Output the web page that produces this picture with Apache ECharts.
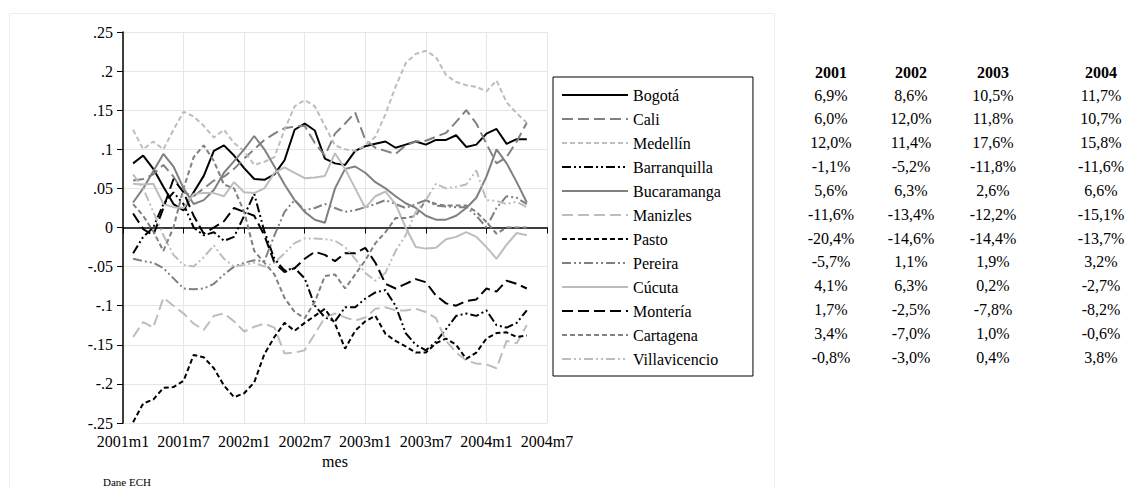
<!DOCTYPE html>
<html><head><meta charset="utf-8">
<script src="https://cdn.jsdelivr.net/npm/echarts@6/dist/echarts.min.js"></script>
<style>html,body{margin:0;padding:0;background:#fff}#c{width:1145px;height:488px}</style>
</head><body><div id="c"></div>
<script>
const months = ['2001m1','2001m2','2001m3','2001m4','2001m5','2001m6','2001m7','2001m8','2001m9','2001m10','2001m11','2001m12',
 '2002m1','2002m2','2002m3','2002m4','2002m5','2002m6','2002m7','2002m8','2002m9','2002m10','2002m11','2002m12',
 '2003m1','2003m2','2003m3','2003m4','2003m5','2003m6','2003m7','2003m8','2003m9','2003m10','2003m11','2003m12',
 '2004m1','2004m2','2004m3','2004m4','2004m5','2004m6','2004m7'];
const cities = ['Bogotá','Cali','Medellín','Barranquilla','Bucaramanga','Manizles','Pasto','Pereira','Cúcuta','Montería','Cartagena','Villavicencio'];
// values from 2001m2 to 2004m5
const bogota = [0.082,0.092,0.075,0.052,0.030,0.022,0.045,0.066,0.098,0.105,0.092,0.076,0.062,0.061,0.068,0.086,0.125,0.133,0.124,0.088,0.082,0.080,0.098,0.104,0.107,0.110,0.102,0.106,0.110,0.106,0.112,0.112,0.118,0.103,0.106,0.120,0.126,0.107,0.113,0.113];
const cali = [0.060,0.062,0.068,0.080,0.065,0.045,0.040,0.050,0.060,0.065,0.075,0.088,0.100,0.112,0.120,0.127,0.129,0.130,0.108,0.092,0.120,0.133,0.147,0.112,0.102,0.098,0.094,0.105,0.110,0.111,0.116,0.121,0.135,0.150,0.133,0.107,0.082,0.090,0.110,0.134];
const medellin = [0.125,0.100,0.110,0.100,0.125,0.148,0.142,0.130,0.115,0.125,0.108,0.098,0.080,0.084,0.090,0.125,0.155,0.163,0.155,0.130,0.105,0.100,0.098,0.105,0.116,0.145,0.180,0.210,0.222,0.226,0.218,0.195,0.186,0.182,0.180,0.174,0.188,0.160,0.146,0.134];
const barranquilla = [-0.033,-0.012,0.000,0.030,0.045,0.030,0.000,-0.010,-0.006,-0.017,-0.012,0.015,0.043,-0.005,-0.040,-0.055,-0.052,-0.065,-0.100,-0.115,-0.120,-0.102,-0.102,-0.091,-0.083,-0.080,-0.100,-0.135,-0.150,-0.157,-0.146,-0.130,-0.113,-0.110,-0.113,-0.106,-0.125,-0.128,-0.122,-0.106];
const bucaramanga = [0.032,0.050,0.072,0.094,0.078,0.050,0.030,0.035,0.048,0.070,0.085,0.100,0.117,0.100,0.078,0.055,0.035,0.020,0.010,0.006,0.050,0.075,0.078,0.070,0.058,0.050,0.040,0.031,0.025,0.015,0.010,0.010,0.015,0.025,0.038,0.065,0.100,0.082,0.058,0.032];
const manizles = [-0.140,-0.121,-0.128,-0.090,-0.100,-0.110,-0.123,-0.131,-0.113,-0.110,-0.120,-0.133,-0.127,-0.123,-0.128,-0.161,-0.160,-0.157,-0.136,-0.115,-0.110,-0.115,-0.119,-0.115,-0.104,-0.102,-0.106,-0.106,-0.104,-0.108,-0.116,-0.145,-0.160,-0.170,-0.174,-0.175,-0.180,-0.145,-0.148,-0.125];
const pasto = [-0.249,-0.225,-0.220,-0.205,-0.204,-0.196,-0.163,-0.166,-0.180,-0.202,-0.217,-0.212,-0.198,-0.162,-0.140,-0.122,-0.132,-0.122,-0.113,-0.104,-0.123,-0.155,-0.132,-0.120,-0.113,-0.136,-0.145,-0.152,-0.160,-0.160,-0.148,-0.142,-0.150,-0.168,-0.160,-0.142,-0.135,-0.134,-0.140,-0.138];
const pereira = [-0.040,-0.043,-0.045,-0.052,-0.065,-0.078,-0.079,-0.078,-0.072,-0.060,-0.050,-0.045,-0.042,-0.043,-0.010,0.020,0.035,0.022,0.025,0.030,0.025,0.020,0.022,0.026,0.030,0.035,0.030,0.025,0.030,0.035,0.028,0.027,0.026,0.026,0.015,0.000,0.025,0.040,0.038,0.030];
const cucuta = [0.056,0.055,0.056,0.030,0.026,0.025,0.043,0.044,0.044,0.040,0.058,0.045,0.044,0.050,0.070,0.077,0.070,0.063,0.064,0.066,0.095,0.075,0.050,0.025,0.040,0.046,0.030,0.000,-0.025,-0.027,-0.026,-0.015,-0.012,-0.006,-0.012,-0.025,-0.040,-0.022,-0.007,-0.010];
const monteria = [0.018,-0.002,-0.010,0.025,0.062,0.045,0.015,-0.008,0.000,0.008,0.025,0.020,0.015,-0.010,-0.045,-0.057,-0.052,-0.040,-0.031,-0.035,-0.043,-0.033,-0.033,-0.026,-0.045,-0.072,-0.078,-0.072,-0.066,-0.070,-0.087,-0.097,-0.100,-0.094,-0.092,-0.078,-0.082,-0.068,-0.072,-0.078];
const cartagena = [0.030,0.015,-0.005,-0.030,0.000,0.050,0.090,0.105,0.085,0.055,0.050,0.020,-0.030,-0.045,-0.060,-0.090,-0.108,-0.116,-0.095,-0.062,-0.060,-0.078,-0.060,-0.042,-0.020,-0.006,0.012,0.012,0.015,0.035,0.030,0.028,0.028,0.028,0.020,0.007,-0.008,0.000,0.000,0.000];
const villavicencio = [0.068,0.050,0.020,-0.010,-0.035,-0.048,-0.050,-0.038,-0.023,-0.040,-0.050,-0.048,-0.045,-0.050,-0.045,-0.033,-0.020,-0.014,-0.014,-0.015,-0.017,-0.025,-0.040,-0.058,-0.068,-0.058,-0.030,-0.010,0.020,0.035,0.056,0.050,0.052,0.055,0.073,0.035,0.034,0.030,0.033,0.026];
const tableYears = ['2001','2002','2003','2004'];
const tableRows = [
 ['6,9%','8,6%','10,5%','11,7%'],
 ['6,0%','12,0%','11,8%','10,7%'],
 ['12,0%','11,4%','17,6%','15,8%'],
 ['-1,1%','-5,2%','-11,8%','-11,6%'],
 ['5,6%','6,3%','2,6%','6,6%'],
 ['-11,6%','-13,4%','-12,2%','-15,1%'],
 ['-20,4%','-14,6%','-14,4%','-13,7%'],
 ['-5,7%','1,1%','1,9%','3,2%'],
 ['4,1%','6,3%','0,2%','-2,7%'],
 ['1,7%','-2,5%','-7,8%','-8,2%'],
 ['3,4%','-7,0%','1,0%','-0,6%'],
 ['-0,8%','-3,0%','0,4%','3,8%']
];
const seriesValues = [bogota,cali,medellin,barranquilla,bucaramanga,manizles,pasto,pereira,cucuta,monteria,cartagena,villavicencio];

const BLK='#000000', DG='#808080', LG='#bdbdbd';
const solid='solid', longDash=[11,5], shortDash=[5,3], dashDot=[9,3,2,3,2,3];
const styles = [
 {c:BLK,t:solid},{c:DG,t:longDash},{c:LG,t:shortDash},{c:BLK,t:dashDot},
 {c:DG,t:solid},{c:LG,t:longDash},{c:BLK,t:shortDash},{c:DG,t:dashDot},
 {c:LG,t:solid},{c:BLK,t:longDash},{c:DG,t:shortDash},{c:LG,t:dashDot}
];
const FONT='Liberation Serif, Times New Roman, serif';

const series = cities.map((name,k)=>({
  name, type:'line', symbol:'none', showSymbol:false, animation:false,
  data: [null].concat(seriesValues[k], [null,null]),
  lineStyle:{color:styles[k].c, width:2, type:styles[k].t},
  itemStyle:{color:styles[k].c}
}));

const colX=[831,911,993,1101];
const graphics=[
  {type:'rect', left:7, top:11, shape:{width:765, height:490}, style:{fill:'none', stroke:'#ececec', lineWidth:1}, silent:true},
  {type:'text', left:103, top:476, style:{text:'Dane ECH', fontFamily:FONT, fontSize:11, fill:'#000'}}
];
tableYears.forEach((y,j)=>graphics.push({type:'text', x:colX[j], y:72, style:{text:y, fontFamily:FONT, fontSize:16, fontWeight:'bold', fill:'#000', align:'center', verticalAlign:'middle'}}));
tableRows.forEach((row,r)=>row.forEach((v,j)=>graphics.push({type:'text', x:colX[j], y:95+r*23.85, style:{text:v, fontFamily:FONT, fontSize:16, fill:'#000', align:'center', verticalAlign:'middle'}})));

const chart = echarts.init(document.getElementById('c'), null, {renderer:'svg'});
chart.setOption({
  backgroundColor:'#fff',
  animation:false,
  grid:{left:123, right:598, top:32, bottom:65, containLabel:false},
  legend:{
    orient:'vertical', left:553, top:77, padding:[10,32,9,8],
    borderColor:'#000', borderWidth:1, itemWidth:66, itemHeight:12, itemGap:8,
    itemStyle:{opacity:0},
    textStyle:{fontFamily:FONT, fontSize:16, color:'#000', lineHeight:16},
    data:cities
  },
  xAxis:{
    type:'category', data:months, boundaryGap:false,
    name:'mes', nameLocation:'middle', nameGap:30,
    nameTextStyle:{fontFamily:FONT, fontSize:16, color:'#000'},
    axisLine:{lineStyle:{color:'#000', width:1.5}},
    axisTick:{interval:5, length:6, lineStyle:{color:'#000'}},
    axisLabel:{interval:5, margin:10, fontFamily:FONT, fontSize:16, color:'#000'},
    splitLine:{show:true, interval:5, lineStyle:{color:'#e6e6e6', width:1}}
  },
  yAxis:{
    type:'value', min:-0.25, max:0.25, interval:0.05,
    axisLine:{show:true, lineStyle:{color:'#000', width:1.5}},
    axisTick:{show:true, length:6, lineStyle:{color:'#000'}},
    axisLabel:{margin:10, fontFamily:FONT, fontSize:16, color:'#000',
      formatter:v=>{ if(Math.abs(v)<1e-9) return '0'; return (+v.toFixed(2)).toString().replace('0.','.'); }},
    splitLine:{show:true, lineStyle:{color:'#e6e6e6', width:1}}
  },
  graphic:graphics,
  series
});
</script>
</body></html>
